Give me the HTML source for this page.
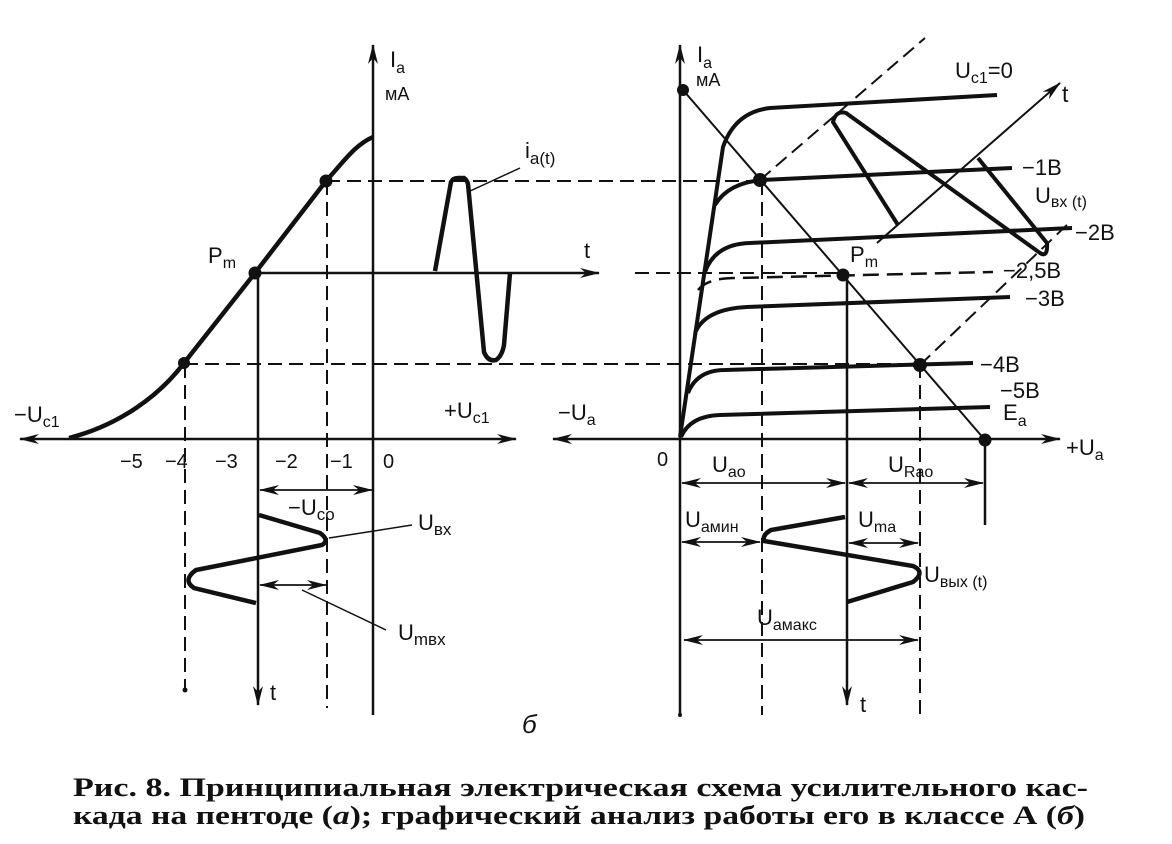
<!DOCTYPE html>
<html><head><meta charset="utf-8"><style>
body{margin:0;background:#fff}
svg{display:block}
text{font-family:"Liberation Sans",sans-serif;fill:#111}
.c{font-family:"Liberation Serif",serif;font-weight:bold;font-size:26px}
</style></head><body>
<svg width="1172" height="844" viewBox="0 0 1172 844" xmlns="http://www.w3.org/2000/svg">
<defs>
<marker id="a" viewBox="0 0 20 10" refX="19" refY="5" markerWidth="20" markerHeight="10" markerUnits="userSpaceOnUse" orient="auto-start-reverse"><path d="M0,0 L20,5 L0,10 L6,5Z" fill="#111"/></marker>
</defs>
<g stroke="#111" fill="none">
<line x1="373" y1="45" x2="373" y2="715" stroke-width="2.5" marker-start="url(#a)"/>
<line x1="20" y1="439" x2="516" y2="439" stroke-width="2.5" marker-start="url(#a)" marker-end="url(#a)"/>
<path d="M69,438 C120,425 160,395 184,363 L255,273 L326,181 C345,160 355,145 373,137" stroke-width="4.5"/>
<g stroke-width="2" stroke-dasharray="14,7">
<line x1="326" y1="181" x2="760" y2="181"/>
<line x1="184" y1="364" x2="920" y2="364"/>
<line x1="635" y1="273" x2="843" y2="273"/>
<line x1="185" y1="364" x2="185" y2="690"/>
<line x1="327" y1="181" x2="327" y2="708"/>
<line x1="762" y1="181" x2="762" y2="715"/>
<line x1="920" y1="364" x2="920" y2="715"/>
<line x1="760" y1="180" x2="925" y2="38"/>
<line x1="920" y1="365" x2="1070" y2="222"/>
</g>
<line x1="255" y1="273" x2="599" y2="273" stroke-width="2.5" marker-end="url(#a)"/>
<line x1="258" y1="273" x2="258" y2="705" stroke-width="2.5" marker-end="url(#a)"/>
<path d="M435,271 L451,182 Q453,178 458,178 L464,178 Q467,180 468,184 L484,352 Q488,362 496,360 Q502,356 504,345 L510,273" stroke-width="4.5"/>
<line x1="468" y1="192" x2="520" y2="168" stroke-width="1.5"/>
<path d="M259,515 L320,533 Q330,540 322,545 L196,570 Q182,580 194,588 L256,603" stroke-width="4.5"/>
<line x1="260" y1="490" x2="372" y2="490" stroke-width="1.8" marker-start="url(#a)" marker-end="url(#a)"/>
<line x1="260" y1="585" x2="326" y2="585" stroke-width="1.8" marker-start="url(#a)" marker-end="url(#a)"/>
<line x1="329" y1="538" x2="412" y2="525" stroke-width="1.5"/>
<line x1="302" y1="590" x2="386" y2="630" stroke-width="1.5"/>
<line x1="680" y1="45" x2="680" y2="715" stroke-width="2.5" marker-start="url(#a)"/>
<line x1="553" y1="439" x2="1060" y2="439" stroke-width="2.5" marker-start="url(#a)" marker-end="url(#a)"/>
<line x1="683" y1="90" x2="985" y2="440" stroke-width="2"/>
<line x1="877" y1="243" x2="1060" y2="83" stroke-width="2" marker-end="url(#a)"/>
<line x1="847" y1="275" x2="847" y2="705" stroke-width="2.5" marker-end="url(#a)"/>
<line x1="985" y1="440" x2="985" y2="525" stroke-width="2.5"/>
<g stroke-width="4">
<path d="M680,437 L723,147 Q735,112 770,108 L997,95"/>
<path d="M715,205 Q728,183 762,180 L1012,168"/>
<path d="M705,272 Q715,244 750,243 L1072,228"/>
<path d="M695,333 Q705,309 747,307 L1010,297"/>
<path d="M688,393 Q697,370 725,370 L973,363"/>
<path d="M681,437 Q690,416 720,415 L990,407"/>
<path d="M898,225 L833,122 Q836,110 846,113 L1040,253 Q1048,258 1047,243 L978,158"/>
</g>
<path d="M698,290 Q708,278 735,278 L993,272" stroke-width="2.5" stroke-dasharray="16,8"/>
<line x1="682" y1="483" x2="845" y2="483" stroke-width="1.8" marker-start="url(#a)" marker-end="url(#a)"/>
<line x1="849" y1="483" x2="983" y2="483" stroke-width="1.8" marker-start="url(#a)" marker-end="url(#a)"/>
<line x1="682" y1="542" x2="760" y2="542" stroke-width="1.8" marker-start="url(#a)" marker-end="url(#a)"/>
<line x1="849" y1="543" x2="918" y2="543" stroke-width="1.8" marker-start="url(#a)" marker-end="url(#a)"/>
<line x1="684" y1="640" x2="918" y2="640" stroke-width="1.8" marker-start="url(#a)" marker-end="url(#a)"/>
<path d="M845,517 L771,530 Q762,535 764,541 L913,566 Q926,572 913,582 L847,602" stroke-width="4.5"/>
</g>
<g fill="#111">
<circle cx="184" cy="363" r="6"/><circle cx="255" cy="273" r="6.5"/><circle cx="326" cy="181" r="6.5"/>
<circle cx="683" cy="90" r="6"/><circle cx="760" cy="180" r="7"/><circle cx="843" cy="275" r="6.5"/><circle cx="920" cy="365" r="7"/><circle cx="985" cy="440" r="6.5"/>
<circle cx="185" cy="690" r="2.5"/><circle cx="680" cy="715" r="2"/>
</g>
<g font-size="22">
<text x="390" y="67">I<tspan font-size="16" dy="6">a</tspan></text>
<text x="385" y="100" font-size="18">мА</text>
<text x="697" y="62">I<tspan font-size="16" dy="6">a</tspan></text>
<text x="696" y="86" font-size="18">мА</text>
<text x="208" y="263">P<tspan font-size="16" dy="5">m</tspan></text>
<text x="850" y="262">P<tspan font-size="16" dy="5">m</tspan></text>
<text x="525" y="158">i<tspan font-size="17" dy="6">a(t)</tspan></text>
<text x="584" y="258">t</text>
<text x="14" y="422">−U<tspan font-size="16" dy="5">c1</tspan></text>
<text x="444" y="418">+U<tspan font-size="16" dy="5">c1</tspan></text>
<text x="558" y="420">−U<tspan font-size="16" dy="5">a</tspan></text>
<text x="1066" y="455">+U<tspan font-size="16" dy="5">a</tspan></text>
<text x="120" y="468" font-size="20">−5</text><text x="165" y="468" font-size="20">−4</text><text x="215" y="468" font-size="20">−3</text><text x="275" y="468" font-size="20">−2</text><text x="330" y="468" font-size="20">−1</text><text x="383" y="468" font-size="20">0</text>
<text x="657" y="466" font-size="20">0</text>
<text x="288" y="515">−U<tspan font-size="17" dy="5">co</tspan></text>
<text x="418" y="530">U<tspan font-size="17" dy="5">вх</tspan></text>
<text x="398" y="640">U<tspan font-size="17" dy="5">mвх</tspan></text>
<text x="270" y="700">t</text>
<text x="860" y="712">t</text>
<text x="1062" y="102" font-size="23">t</text>
<text x="955" y="78">U<tspan font-size="16" dy="5">c1</tspan><tspan dy="-5">=0</tspan></text>
<text x="1022" y="175">−1B</text>
<text x="1035" y="203">U<tspan font-size="16" dy="4">вх (t)</tspan></text>
<text x="1075" y="240">−2B</text>
<text x="1003" y="278">−2,5B</text>
<text x="1025" y="306">−3B</text>
<text x="980" y="372">−4B</text>
<text x="1000" y="398">−5B</text>
<text x="1003" y="420">E<tspan font-size="16" dy="6">a</tspan></text>
<text x="712" y="472">U<tspan font-size="16" dy="5">ao</tspan></text>
<text x="888" y="472">U<tspan font-size="16" dy="5">Rao</tspan></text>
<text x="685" y="527">U<tspan font-size="16" dy="5">амин</tspan></text>
<text x="858" y="527">U<tspan font-size="16" dy="5">ma</tspan></text>
<text x="924" y="582">U<tspan font-size="16" dy="5">вых (t)</tspan></text>
<text x="757" y="625">U<tspan font-size="16" dy="5">амакс</tspan></text>
<text x="522" y="733" font-size="26" font-style="italic" font-family="Liberation Serif">б</text>
</g>
<text class="c" x="73" y="796" textLength="1015" lengthAdjust="spacingAndGlyphs">Рис. 8. Принципиальная электрическая схема  усилительного кас-</text>
<text class="c" x="73" y="824" textLength="1012" lengthAdjust="spacingAndGlyphs">када на пентоде (<tspan font-style="italic">а</tspan>); графический анализ работы его в классе А (<tspan font-style="italic">б</tspan>)</text>
</svg>
</body></html>
